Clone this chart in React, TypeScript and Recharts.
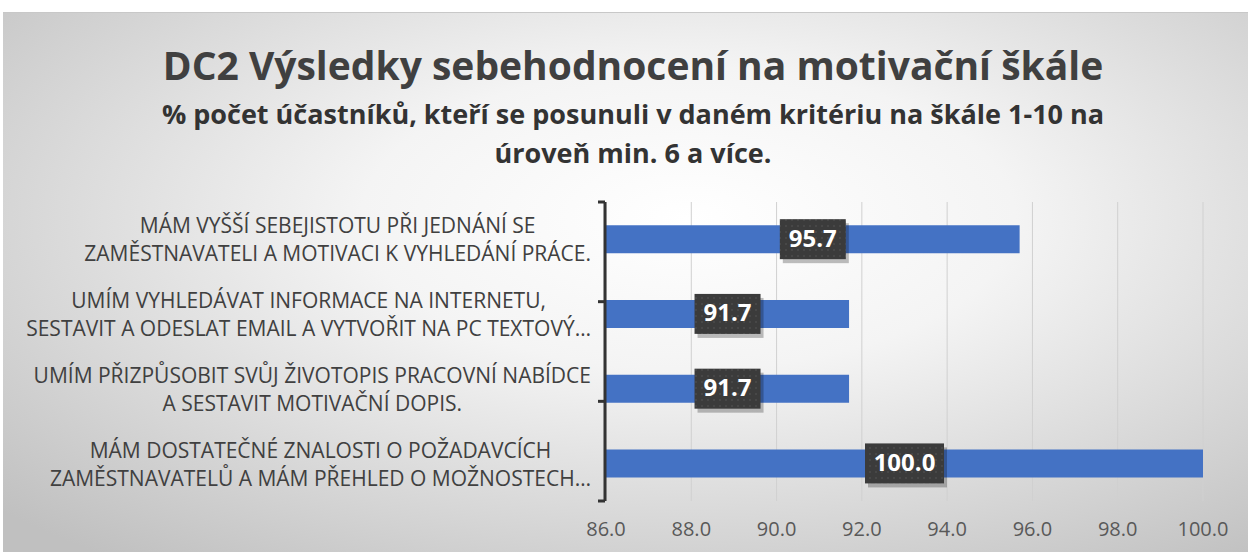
import React from 'react'
import { Bar, BarChart, CartesianGrid, LabelList, XAxis, YAxis } from 'recharts'

const categories = [
	'MÁM VYŠŠÍ SEBEJISTOTU PŘI JEDNÁNÍ SE\nZAMĚSTNAVATELI A MOTIVACI K VYHLEDÁNÍ PRÁCE.',
	'UMÍM VYHLEDÁVAT INFORMACE NA INTERNETU,\nSESTAVIT A ODESLAT EMAIL A VYTVOŘIT NA PC TEXTOVÝ…',
	'UMÍM PŘIZPŮSOBIT SVŮJ ŽIVOTOPIS PRACOVNÍ NABÍDCE\nA SESTAVIT MOTIVAČNÍ DOPIS.',
	'MÁM DOSTATEČNÉ ZNALOSTI O POŽADAVCÍCH\nZAMĚSTNAVATELŮ A MÁM PŘEHLED O MOŽNOSTECH…',
]
const values = [95.7, 91.7, 91.7, 100.0]
const xTicks = [86, 88, 90, 92, 94, 96, 98, 100]
const frameTicks = [0, 1, 2, 3, 4]

const title = 'DC2 Výsledky sebehodnocení na motivační škále'
const subtitle = ['% počet účastníků, kteří se posunuli v daném kritériu na škále 1-10 na', 'úroveň min. 6 a více.']

const data = categories.map((name, i) => ({ name, value: values[i] }))

const FONT = '"Open Sans", Lato, sans-serif'

// label block is right-aligned next to the axis, its lines centred inside the block
const CategoryTick = ({ x, y, payload }: any) => {
	const boxW = 600
	const boxH = 80
	return (
		<foreignObject x={x - 7 - boxW} y={y - boxH / 2} width={boxW} height={boxH}>
			<div
				style={{
					width: boxW,
					height: boxH,
					display: 'flex',
					alignItems: 'center',
					justifyContent: 'flex-end',
				}}
			>
				<div
					style={{
						textAlign: 'center',
						whiteSpace: 'pre',
						fontFamily: FONT,
						fontSize: 21,
						lineHeight: '28px',
						color: '#404040',
					}}
				>
					{String(payload.value)}
				</div>
			</div>
		</foreignObject>
	)
}

const EmptyTick = () => <g />

const ValueLabel = (props: any) => {
	const { x, y, width, height, value } = props
	const text = Number(value).toFixed(1)
	const w = text.length * 13 + 14
	const h = 40
	const cx = x + width / 2
	const cy = y + height / 2
	return (
		<g>
			<defs>
				<pattern id='dots' width='6' height='6' patternUnits='userSpaceOnUse'>
					<rect width='6' height='6' fill='#3b3b3b' />
					<circle cx='3' cy='3' r='0.8' fill='#555' />
				</pattern>
			</defs>
			<rect x={cx - w / 2 + 3} y={cy - h / 2 + 4} width={w} height={h} fill='rgba(0,0,0,0.25)' />
			<rect x={cx - w / 2} y={cy - h / 2} width={w} height={h} fill='url(#dots)' />
			<text x={cx} y={cy + 1} textAnchor='middle' dominantBaseline='middle' fill='#fff' fontSize={24} fontWeight={700} fontFamily={FONT}>
				{text}
			</text>
		</g>
	)
}

export default function App() {
	return (
		<div
			style={{
				position: 'absolute',
				left: 3,
				top: 12,
				width: 1245,
				height: 540,
				background: 'radial-gradient(ellipse 75% 80% at 55% 38%, #ffffff 0%, #f4f4f4 35%, #c0c0c0 100%)',
				borderTop: '1px solid #c8c8c8',
				fontFamily: FONT,
			}}
		>
			<div style={{ position: 'absolute', top: 27, left: 0, width: 1260, textAlign: 'center', fontSize: 39, fontWeight: 700, color: '#404040', lineHeight: '50px' }}>
				{title}
			</div>
			<div style={{ position: 'absolute', top: 81, left: 0, width: 1260, textAlign: 'center', fontSize: 27, fontWeight: 700, color: '#333', lineHeight: '39px' }}>
				{subtitle.map((s, i) => (
					<div key={i}>{s}</div>
				))}
			</div>
			<div style={{ position: 'absolute', left: 0, top: 0 }}>
				<BarChart
					width={1245}
					height={540}
					data={data}
					layout='vertical'
					margin={{ top: 189, right: 45, left: 0, bottom: 12 }}
					barCategoryGap='31%'
				>
					<CartesianGrid horizontal={false} stroke='#d0d0d0' xAxisId={0} yAxisId='cat' />
					<XAxis
						type='number'
						domain={[86, 100]}
						ticks={xTicks}
						allowDataOverflow
						tickFormatter={(t: number) => t.toFixed(1)}
						axisLine={false}
						tickLine={false}
						tick={{ fill: '#595959', fontSize: 20, fontFamily: FONT }}
						tickMargin={15}
						height={40}
					/>
					<YAxis
						yAxisId='cat'
						type='category'
						dataKey='name'
						width={1}
						axisLine={false}
						tickLine={false}
						tick={<CategoryTick />}
						interval={0}
					/>
					<YAxis
						yAxisId='frame'
						type='number'
						domain={[0, 4]}
						ticks={frameTicks}
						width={602}
						tick={<EmptyTick />}
						tickSize={7}
						axisLine={{ stroke: '#333', strokeWidth: 3 }}
						tickLine={{ stroke: '#333', strokeWidth: 3 }}
					/>
					<Bar yAxisId='cat' dataKey='value' fill='#4472C4' isAnimationActive={false}>
						<LabelList dataKey='value' content={<ValueLabel />} />
					</Bar>
				</BarChart>
			</div>
		</div>
	)
}
